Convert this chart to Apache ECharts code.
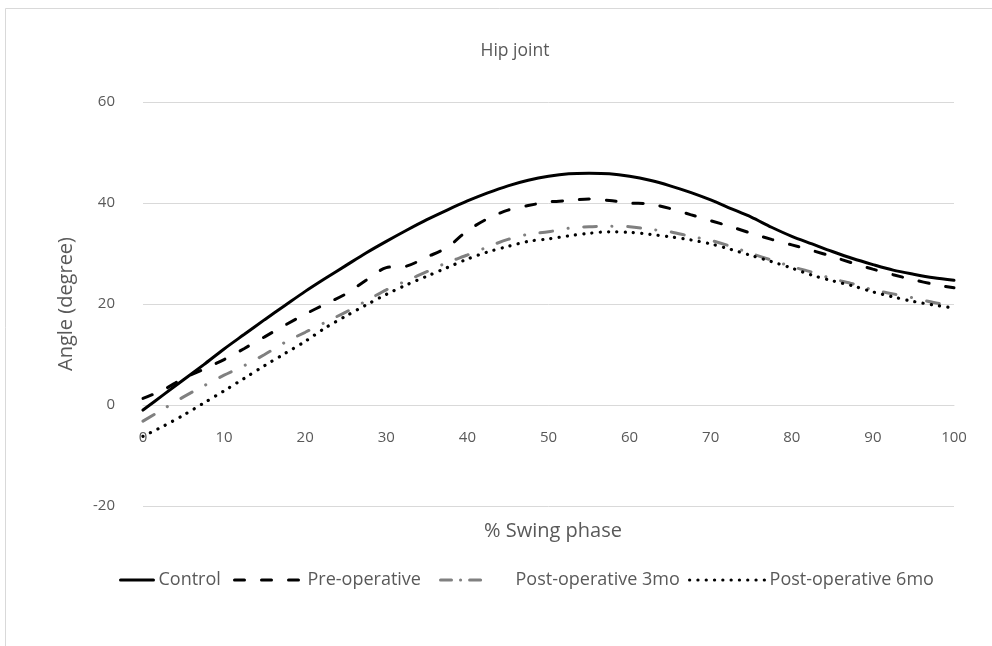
<!DOCTYPE html>
<html>
<head>
<meta charset="utf-8">
<script src="https://cdn.jsdelivr.net/npm/echarts@6/dist/echarts.min.js"></script>
<style>
  html, body { margin: 0; padding: 0; background: #ffffff; }
  #chart { width: 992px; height: 646px; }
</style>
</head>
<body>
<div id="chart"></div>
<script>
// Swing phase (%) sample points
const phase = [0, 2.5, 5, 7.5, 10, 12.5, 15, 17.5, 20, 22.5, 25, 27.5, 30, 32.5, 35, 37.5,
  40, 42.5, 45, 47.5, 50, 52.5, 55, 57.5, 60, 62.5, 65, 67.5, 70, 72.5, 75, 77.5,
  80, 82.5, 85, 87.5, 90, 92.5, 95, 97.5, 100];

// Hip joint angle (degree) per group
const control = [-1.0, 2.0, 5.0, 8.0, 11.1, 14.0, 16.9, 19.7, 22.5, 25.1, 27.6, 30.1, 32.4, 34.6, 36.7, 38.6,
  40.4, 42.0, 43.4, 44.5, 45.3, 45.8, 45.9, 45.8, 45.3, 44.5, 43.4, 42.1, 40.6, 38.9, 37.2, 35.2,
  33.4, 31.9, 30.4, 29.0, 27.8, 26.7, 25.9, 25.2, 24.7];
const preOperative = [1.3, 3.0, 5.3, 7.1, 9.0, 11.2, 13.5, 15.8, 18.0, 20.0, 22.0, 24.7, 27.2, 27.5, 29.3, 31.2,
  34.5, 36.9, 38.6, 39.5, 40.2, 40.5, 40.8, 40.5, 40.0, 39.8, 38.9, 37.7, 36.5, 35.3, 34.0, 32.8,
  31.7, 30.6, 29.4, 28.1, 26.9, 25.8, 24.8, 23.9, 23.2];
const postOp3mo = [-3.2, -0.8, 1.6, 3.8, 5.9, 7.8, 10.0, 12.4, 14.4, 16.4, 18.4, 20.6, 22.8, 24.6, 26.4, 28.2,
  29.7, 31.3, 32.8, 33.8, 34.3, 35.0, 35.3, 35.4, 35.3, 34.8, 34.3, 33.4, 32.6, 31.4, 30.0, 28.7,
  27.4, 26.3, 25.0, 24.0, 22.8, 22.0, 21.2, 20.3, 19.7];
const postOp6mo = [-6.2, -4.2, -2.0, 0.4, 2.8, 5.3, 7.8, 10.2, 12.6, 15.3, 17.6, 19.8, 21.9, 23.8, 25.5, 27.2,
  28.9, 30.3, 31.4, 32.4, 32.9, 33.5, 34.0, 34.3, 34.2, 33.8, 33.3, 32.7, 31.9, 30.8, 29.6, 28.4,
  27.1, 25.7, 24.6, 23.6, 22.4, 21.4, 20.5, 19.8, 19.2];

const seriesNames = ['Control', 'Pre-operative', 'Post-operative 3mo', 'Post-operative 6mo'];
const xTicks = [0, 10, 20, 30, 40, 50, 60, 70, 80, 90, 100];
const yTicks = [-20, 0, 20, 40, 60];

const FONT = 'Open Sans';
const TEXT = '#595959';
const GRID_LINE = '#d9d9d9';

// Plot box
const PLOT = { left: 143, right: 38, top: 102, bottom: 140 };
const plotHeight = 646 - PLOT.top - PLOT.bottom;
// the horizontal axis crosses the vertical axis at 0
const zeroOffset = -plotHeight * (0 - yTicks[0]) / (yTicks[yTicks.length - 1] - yTicks[0]);

function pairs(values) {
  return phase.map((p, i) => [p, values[i]]);
}

const chart = echarts.init(document.getElementById('chart'), null, { renderer: 'canvas' });

function legendItem(name, left, itemWidth, lineStyle, textPad) {
  return {
    data: [name],
    left: left,
    top: 566,
    itemWidth: itemWidth,
    itemHeight: 14,
    selectedMode: false,
    itemStyle: { opacity: 0 },
    lineStyle: lineStyle,
    textStyle: { fontFamily: FONT, fontSize: 18, color: TEXT, padding: [0, 0, 0, textPad || 0] }
  };
}

const styles = [
  { color: '#000000', width: 3, type: 'solid', cap: 'round' },
  { color: '#000000', width: 3, type: [10, 17], cap: 'round' },
  { color: '#808080', width: 3, type: [13, 15.5, 0.1, 15.5], cap: 'round' },
  { color: '#000000', width: 3.2, type: [0.1, 8.2], cap: 'round' }
];
// shorter dash-dot so the legend swatch shows dash, dot, dash
const legendDashDot = Object.assign({}, styles[2], { type: [11, 9, 0.1, 9] });

chart.setOption({
  backgroundColor: '#ffffff',
  animation: false,
  title: [
    {
      text: 'Hip joint',
      left: 510, top: 37, textAlign: 'center',
      textStyle: { fontFamily: FONT, fontSize: 17.5, fontWeight: 'normal', color: TEXT }
    },
    {
      text: '% Swing phase',
      left: 548, top: 516, textAlign: 'center',
      textStyle: { fontFamily: FONT, fontSize: 20, fontWeight: 'normal', color: TEXT }
    }
  ],
  graphic: [{
    type: 'rect',
    shape: { x: 5.5, y: 8.5, width: 1000, height: 700 },
    style: { fill: 'none', stroke: GRID_LINE, lineWidth: 1 },
    silent: true, z: -10
  }],
  legend: [
    legendItem(seriesNames[0], 114, 33, styles[0]),
    legendItem(seriesNames[1], 228, 68, styles[1]),
    legendItem(seriesNames[2], 434, 44, legendDashDot, 26),
    legendItem(seriesNames[3], 683, 75, styles[3])
  ],
  grid: { left: PLOT.left, right: PLOT.right, top: PLOT.top, bottom: PLOT.bottom, containLabel: false },
  xAxis: {
    type: 'value',
    min: xTicks[0], max: xTicks[xTicks.length - 1], interval: 10,
    offset: zeroOffset,
    axisLine: { show: true, onZero: false, lineStyle: { color: GRID_LINE, width: 1 } },
    axisTick: { show: false },
    splitLine: { show: false },
    axisLabel: { margin: 25, fontFamily: FONT, fontSize: 15, color: TEXT }
  },
  yAxis: {
    type: 'value',
    min: yTicks[0], max: yTicks[yTicks.length - 1], interval: 20,
    name: 'Angle (degree)',
    nameLocation: 'middle',
    nameGap: 67,
    nameTextStyle: { fontFamily: FONT, fontSize: 20, color: TEXT },
    axisLine: { show: false },
    axisTick: { show: false },
    splitLine: { show: true, lineStyle: { color: GRID_LINE, width: 1 } },
    axisLabel: { margin: 28, fontFamily: FONT, fontSize: 15, color: TEXT }
  },
  series: [
    {
      name: seriesNames[0], type: 'line', data: pairs(control),
      symbol: 'none', smooth: 0.3, lineStyle: styles[0],
      itemStyle: { color: styles[0].color }, z: 4
    },
    {
      name: seriesNames[1], type: 'line', data: pairs(preOperative),
      symbol: 'none', smooth: 0.3, lineStyle: styles[1],
      itemStyle: { color: styles[1].color }, z: 3
    },
    {
      name: seriesNames[2], type: 'line', data: pairs(postOp3mo),
      symbol: 'none', smooth: 0.3, lineStyle: styles[2],
      itemStyle: { color: styles[2].color }, z: 2
    },
    {
      name: seriesNames[3], type: 'line', data: pairs(postOp6mo),
      symbol: 'none', smooth: 0.3, lineStyle: styles[3],
      itemStyle: { color: styles[3].color }, z: 5
    }
  ]
});
</script>
</body>
</html>
